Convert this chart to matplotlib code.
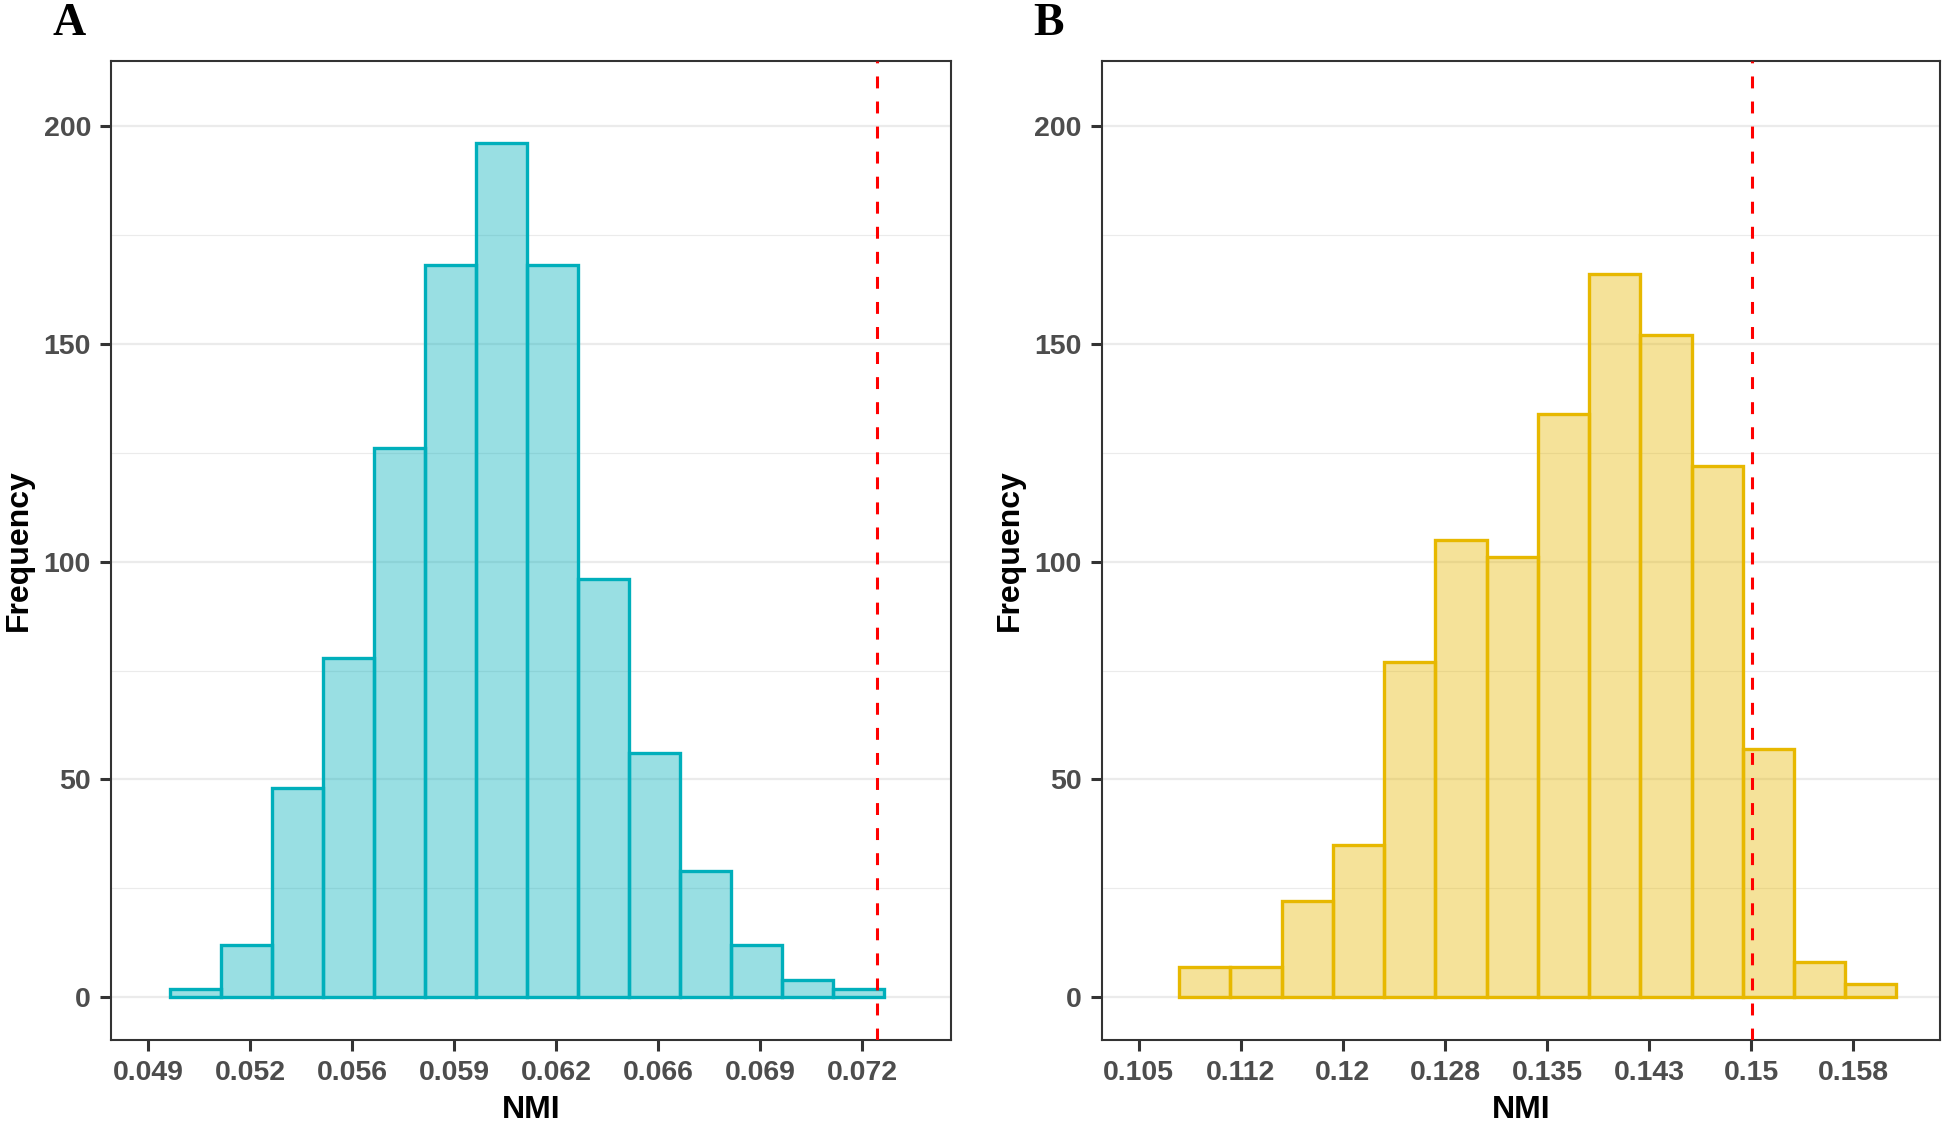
import numpy as np
import matplotlib
matplotlib.use("Agg")
import matplotlib.pyplot as plt
from matplotlib.colors import to_rgba

plt.rcParams['font.family'] = ['Liberation Sans', 'DejaVu Sans']

# panel A - NMI from permutations
a_bin_start = 0.049702
a_bin_width = 0.001655
a_counts = [2, 12, 48, 78, 126, 168, 196, 168, 96, 56, 29, 12, 4, 2]
a_observed = 0.072653
a_ticks = [0.04900, 0.05231, 0.05562, 0.05893, 0.06224, 0.06555, 0.06886, 0.07217]
a_tick_labels = ["0.049", "0.052", "0.056", "0.059", "0.062", "0.066", "0.069", "0.072"]

# panel B
b_bin_start = 0.10779
b_bin_width = 0.0038
b_counts = [7, 7, 22, 35, 77, 105, 101, 134, 166, 152, 122, 57, 8, 3]
b_observed = 0.15029
b_ticks = [0.10480, 0.11237, 0.11994, 0.12751, 0.13508, 0.14265, 0.15022, 0.15779]
b_tick_labels = ["0.105", "0.112", "0.12", "0.128", "0.135", "0.143", "0.15", "0.158"]

y_ticks = [0, 50, 100, 150, 200]
y_minor = [25, 75, 125, 175]


def draw_panel(ax, bin_start, bin_width, counts, observed, ticks, tick_labels, xlim, color):
    lefts = bin_start + bin_width * np.arange(len(counts))
    ax.bar(lefts, counts, width=bin_width, align='edge',
           facecolor=to_rgba(color, 0.4), edgecolor=color, linewidth=2.4, zorder=2)
    ax.axvline(observed, color='#FF0000', linewidth=2.2, linestyle=(0, (3.9, 4.3)), zorder=3)

    ax.set_xlim(*xlim)
    ax.set_ylim(-9.8, 215)
    ax.set_xticks(ticks)
    ax.set_xticklabels(tick_labels, fontweight='bold')
    ax.set_yticks(y_ticks)
    ax.set_yticklabels([str(v) for v in y_ticks], fontweight='bold')
    ax.set_yticks(y_minor, minor=True)

    ax.set_axisbelow(True)
    ax.grid(axis='y', which='major', color='#EBEBEB', linewidth=1.6)
    ax.grid(axis='y', which='minor', color='#EBEBEB', linewidth=0.8)
    ax.tick_params(which='minor', length=0)
    ax.tick_params(which='major', length=7.9, width=2.2, color='#333333',
                   pad=6.3, labelsize=20.5, labelcolor='#4D4D4D')
    for spine in ax.spines.values():
        spine.set_color('#333333')
        spine.set_linewidth(1.5)

    ax.set_xlabel("NMI", fontsize=23, fontweight='bold', labelpad=7)
    ax.set_ylabel("Frequency", fontsize=23, fontweight='bold', labelpad=6.7)


fig = plt.figure(figsize=(19.44, 11.24), dpi=100)
ax_a = fig.add_axes([0.05694, 0.07473, 0.43226, 0.87127])
ax_b = fig.add_axes([0.56662, 0.07473, 0.43133, 0.87127])

draw_panel(ax_a, a_bin_start, a_bin_width, a_counts, a_observed,
           a_ticks, a_tick_labels, (0.047779, 0.075050), '#00AFBB')
draw_panel(ax_b, b_bin_start, b_bin_width, b_counts, b_observed,
           b_ticks, b_tick_labels, (0.10203, 0.16422), '#E7B800')

# panel letters
fig.text(52 / 1944, 1 - 35 / 1124, "A", fontsize=33, fontweight='bold',
         family=['Liberation Serif', 'DejaVu Serif'], va='baseline')
fig.text(1033 / 1944, 1 - 35 / 1124, "B", fontsize=33, fontweight='bold',
         family=['Liberation Serif', 'DejaVu Serif'], va='baseline')

fig.savefig("out.png", dpi=100)
